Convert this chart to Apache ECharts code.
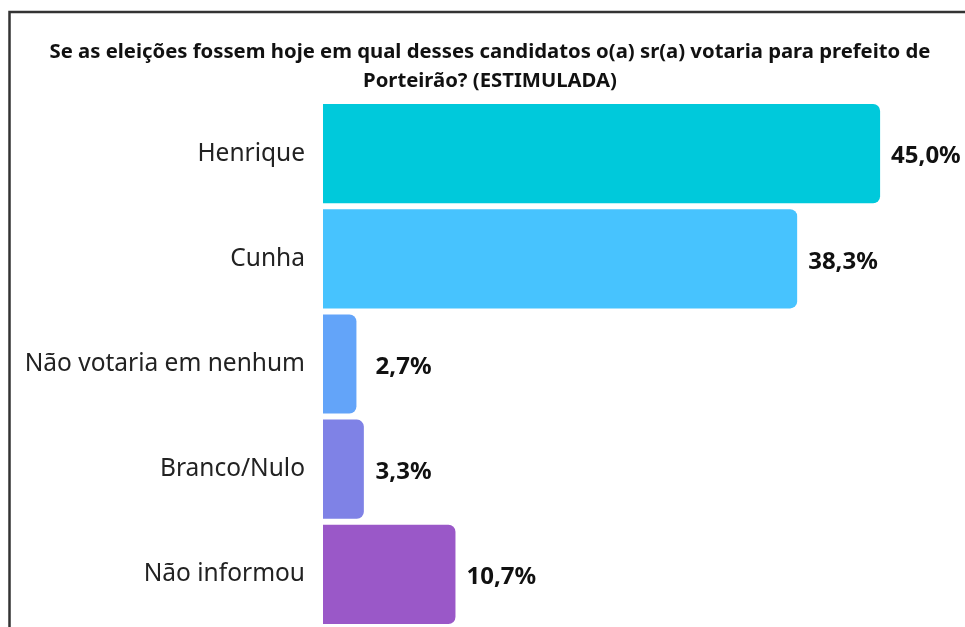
<!DOCTYPE html>
<html>
<head>
<meta charset="utf-8">
<script src="https://cdn.jsdelivr.net/npm/echarts@6/dist/echarts.min.js"></script>
<style>html,body{margin:0;padding:0;background:#fff}#c{width:965px;height:627px}</style>
</head>
<body>
<div id="c"></div>
<script>
const titleText = 'Se as eleições fossem hoje em qual desses candidatos o(a) sr(a) votaria para prefeito de\nPorteirão? (ESTIMULADA)';
const categories = ['Henrique', 'Cunha', 'Não votaria em nenhum', 'Branco/Nulo', 'Não informou'];
const values = [45.0, 38.3, 2.7, 3.3, 10.7];
const colors = ['#00C9DB', '#47C3FE', '#63A4F9', '#7F82E6', '#9A58C8'];

const chart = echarts.init(document.getElementById('c'), null, {renderer: 'canvas'});
const FONT = '"Noto Sans", "Open Sans", sans-serif';

function buildData(distances) {
  return values.map((v, i) => ({
    value: v,
    itemStyle: {color: colors[i]},
    label: {distance: distances ? distances[i] : 12}
  }));
}

const option = {
  backgroundColor: '#fff',
  animation: false,
  title: {
    text: titleText,
    left: 485,
    textAlign: 'center',
    top: 33,
    itemGap: 0,
    textStyle: {fontFamily: FONT, fontSize: 20.3, fontWeight: 'bold', color: '#111', lineHeight: 29}
  },
  graphic: [{
    type: 'rect',
    shape: {x: 9.5, y: 12, width: 1200, height: 1200},
    style: {fill: 'none', stroke: '#333', lineWidth: 2.5},
    silent: true
  }],
  grid: {left: 323, top: 101, width: 619, height: 530, containLabel: false},
  xAxis: {type: 'value', min: 0, max: 50, show: false},
  yAxis: {
    type: 'category', inverse: true, data: categories,
    axisLine: {show: false}, axisTick: {show: false},
    axisLabel: {fontFamily: FONT, fontSize: 24.5, color: '#222', margin: 18}
  },
  series: [{
    type: 'bar',
    data: buildData(null),
    barCategoryGap: '5.7%',
    itemStyle: {borderRadius: [0, 7, 7, 0]},
    label: {
      show: true, position: 'right', offset: [0, 3],
      fontFamily: FONT, fontSize: 24, fontWeight: 'bold', color: '#111',
      formatter: p => p.value.toFixed(1).replace('.', ',') + '%'
    }
  }]
};
chart.setOption(option);
// keep small-bar labels from hugging the axis: minimum label start position
const minLabelX = chart.convertToPixel({xAxisIndex: 0}, 4.25);
const dists = values.map(v => Math.max(11, minLabelX - chart.convertToPixel({xAxisIndex: 0}, v)));
chart.setOption({series: [{data: buildData(dists)}]});
</script>
</body>
</html>
